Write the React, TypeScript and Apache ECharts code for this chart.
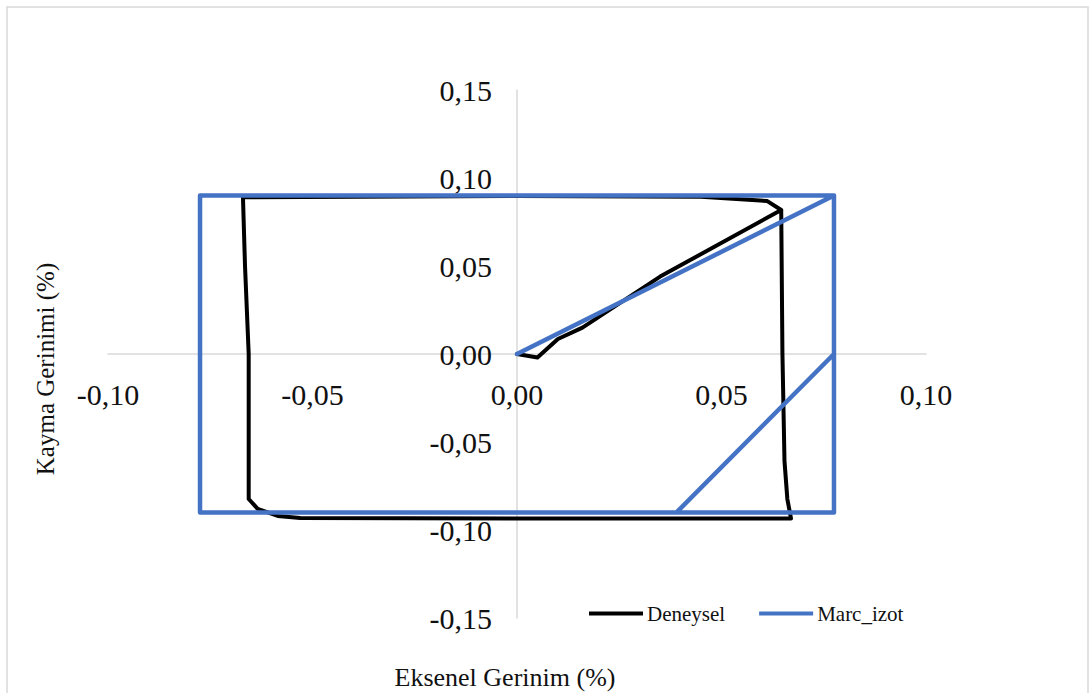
import React, { useEffect, useRef } from "react";
import * as echarts from "echarts";

const seriesNames = ["Deneysel", "Marc_izot"];

const deneysel: [number, number][] = [
  [0, 0], [0.005, -0.002], [0.010, 0.0085], [0.016, 0.015], [0.035, 0.044],
  [0.0646, 0.0818], [0.0612, 0.0869], [0.045, 0.0893], [0, 0.0898],
  [-0.067, 0.089], [-0.0665, 0.05], [-0.0656, 0], [-0.0656, -0.0824],
  [-0.0634, -0.088], [-0.0585, -0.092], [-0.053, -0.0932], [0, -0.0935],
  [0.067, -0.0935], [0.0661, -0.0824], [0.0654, -0.0608], [0.0649, 0],
  [0.0646, 0.0818],
];

const marcIzot: [number, number][] = [
  [0, 0], [0.0775, 0.09], [-0.0775, 0.09], [-0.0775, -0.09], [0.0775, -0.09],
  [0.0775, 0.09], [0.0775, 0], [0.039, -0.09],
];

const xTitle = "Eksenel Gerinim (%)";
const yTitle = "Kayma Gerinimi (%)";

const FONT = "'Liberation Serif', 'Times New Roman', serif";
const fmt = (v: number) => v.toFixed(2).replace(".", ",");

const GRID = { left: 108, right: 163, top: 90, bottom: 75 };
const W = 1089, H = 693;

export default function App() {
  const ref = useRef<HTMLDivElement>(null);
  useEffect(() => {
    document.body.style.margin = "0";
    const chart = echarts.init(ref.current!, null, { renderer: "svg" });
    const gh = H - GRID.top - GRID.bottom;
    const gw = W - GRID.left - GRID.right;
    chart.setOption({
      animation: false,
      backgroundColor: "#fff",
      grid: { ...GRID, containLabel: false },
      xAxis: {
        type: "value", min: -0.1, max: 0.1, interval: 0.05,
        position: "bottom", offset: -gh / 2,
        axisLine: { onZero: false, lineStyle: { color: "#d9d9d9", width: 1.5 } },
        axisTick: { show: false },
        splitLine: { show: false },
        axisLabel: { formatter: fmt, fontFamily: FONT, fontSize: 30, color: "#111", margin: 25 },
      },
      yAxis: {
        type: "value", min: -0.15, max: 0.15, interval: 0.05,
        position: "left", offset: -gw / 2,
        axisLine: { onZero: false, lineStyle: { color: "#d9d9d9", width: 1.5 } },
        axisTick: { show: false },
        splitLine: { show: false },
        axisLabel: { formatter: fmt, fontFamily: FONT, fontSize: 30, color: "#111", margin: 25 },
      },
      legend: {
        left: 589, top: 603, padding: 0,
        itemWidth: 54, itemHeight: 4, itemGap: 34,
        icon: "rect",
        textStyle: { fontFamily: FONT, fontSize: 21, color: "#111", padding: [0, 0, 0, -1] },
        data: seriesNames,
      },
      series: [
        {
          name: seriesNames[0], type: "line", data: deneysel, showSymbol: false,
          symbol: "none", color: "#000",
          lineStyle: { color: "#000", width: 4, cap: "round", join: "round" },
        },
        {
          name: seriesNames[1], type: "line", data: marcIzot, showSymbol: false,
          symbol: "none", color: "#4472C4",
          lineStyle: { color: "#4472C4", width: 4.5, cap: "round", join: "round" },
        },
      ],
      graphic: [
        {
          type: "rect", silent: true,
          shape: { x: 7, y: 7, width: 1081, height: 720 },
          style: { fill: "none", stroke: "#d9d9d9", lineWidth: 1.5 },
        },
        {
          type: "text", x: 505, y: 677,
          style: { text: xTitle, font: `26px ${FONT}`, fill: "#111", textAlign: "center", textVerticalAlign: "middle" },
        },
        {
          type: "text", x: 45, y: 369, rotation: Math.PI / 2,
          style: { text: yTitle, font: `25px ${FONT}`, fill: "#111", textAlign: "center", textVerticalAlign: "middle" },
        },
      ],
    });
    return () => chart.dispose();
  }, []);
  return <div ref={ref} style={{ width: W, height: H }} />;
}
